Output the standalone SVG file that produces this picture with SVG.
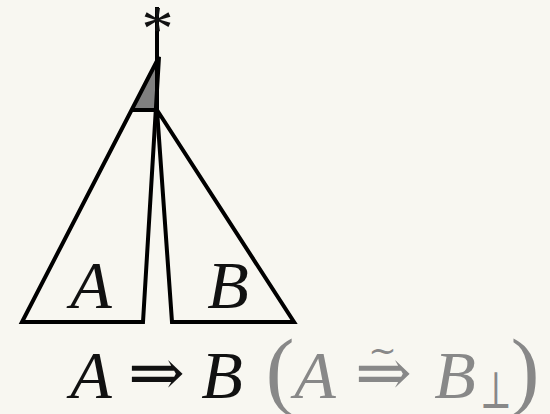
<svg xmlns="http://www.w3.org/2000/svg" width="550" height="414" viewBox="0 0 550 414">
<style>
.ln{fill:none;stroke:#000;stroke-width:4;stroke-linejoin:miter;stroke-linecap:butt}
.t{font-family:"Liberation Serif","DejaVu Serif",serif;font-style:italic;font-size:68px;text-anchor:middle}
.s{font-family:"Liberation Serif","DejaVu Serif",serif;text-anchor:middle}
.g{fill:#888}
.k{fill:#111}
</style>
<rect width="550" height="414" fill="#f8f7f1"/>
<g id="shade"><polygon points="157,61 132,110 157,110" fill="#808080"/></g>
<g id="connectors">
<line class="ln" x1="157" y1="7" x2="157" y2="112"/>
<line class="ln" x1="132" y1="110" x2="158" y2="110"/>
</g>
<g id="treeA"><polygon class="ln" points="159,57 22,322 143,322"/><text class="t k" x="91" y="308">A</text></g>
<g id="treeB"><polygon class="ln" points="157,110 172,322 294,322"/><text class="t k" x="228" y="308">B</text></g>
<g id="root"><text class="s k" x="157.5" y="50" font-size="64">*</text></g>
<g id="caption">
<text class="t k" x="91" y="398">A</text>
<text class="s k" x="156.5" y="395" font-size="66" textLength="57" lengthAdjust="spacingAndGlyphs">⇒</text>
<text class="t k" x="222" y="398">B</text>
<text class="s g" x="280" y="399" font-size="86">(</text>
<text class="t g" x="315" y="398">A</text>
<text class="s g" x="383.5" y="395" font-size="66" textLength="57" lengthAdjust="spacingAndGlyphs">⇒</text>
<text class="s g" x="382.5" y="362" font-size="34" style="font-family:'DejaVu Serif',serif">~</text>
<text class="t g" x="455" y="398">B</text>
<text class="s g" x="496" y="408" font-size="52" textLength="32" lengthAdjust="spacingAndGlyphs">⊥</text>
<text class="s g" x="525" y="399" font-size="86">)</text>
</g>
</svg>
